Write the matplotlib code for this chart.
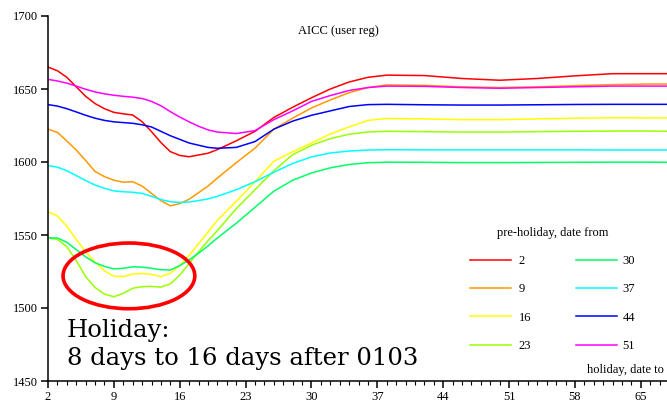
import numpy as np
import matplotlib
matplotlib.use("Agg")
import matplotlib.pyplot as plt
from matplotlib.patches import Ellipse
from matplotlib.ticker import MultipleLocator

plt.rcParams['font.family'] = ['Liberation Serif', 'DejaVu Serif']

# day axis ("holiday, date to")
days = [2, 3, 4, 5, 6, 7, 8, 9, 10, 11, 12, 13, 14, 15, 16, 17, 18, 19, 20,
        22, 24, 26, 28, 30, 32, 34, 36, 38, 42, 46, 50, 54, 58, 62, 66, 68]

# AICC per pre-holiday start date
aicc_2 = [1665, 1662.5, 1658, 1651.5, 1645, 1640, 1636.5, 1634, 1633, 1632.2, 1627.6, 1620.8,
          1613.3, 1607.1, 1604.5, 1603.6, 1604.8, 1606, 1608.5, 1614.5, 1621, 1630.5, 1637.5,
          1644, 1650, 1654.8, 1658, 1659.5, 1659.2, 1657.2, 1656, 1657.2, 1659, 1660.5, 1660.5, 1660.5]
aicc_9 = [1622.5, 1620.3, 1614.4, 1608.2, 1601, 1593.5, 1590, 1587.5, 1586.2, 1586.5, 1583.5,
          1578.5, 1573.5, 1570, 1571.5, 1574.5, 1579, 1583.5, 1589, 1599.5, 1609.5, 1622.5, 1630,
          1637, 1642.5, 1647.5, 1651, 1652.8, 1652.5, 1651.5, 1651, 1651.5, 1652.3, 1653, 1653.4, 1653.4]
aicc_16 = [1566, 1563, 1556, 1547, 1538.5, 1531.5, 1525.5, 1521.7, 1521.5, 1523.3, 1523.6, 1523,
           1521.5, 1523.8, 1529, 1536, 1544, 1552, 1560, 1573, 1586.5, 1600.5, 1607, 1613, 1619.2,
           1624, 1628.5, 1629.8, 1629.5, 1629, 1629, 1629.5, 1630, 1630.3, 1630.2, 1630.2]
aicc_23 = [1548, 1547, 1542, 1532.5, 1521.5, 1514, 1509.5, 1507.7, 1510, 1513.5, 1514.6, 1514.8,
           1514.3, 1516.5, 1522.5, 1530.5, 1538.5, 1546, 1553, 1568, 1581, 1594, 1605, 1611.5,
           1616, 1619, 1620.6, 1621, 1620.8, 1620.5, 1620.5, 1620.8, 1621, 1621.2, 1621.2, 1621]
aicc_30 = [1548, 1548, 1545, 1540, 1535, 1531, 1528.5, 1526.8, 1527.2, 1528.2, 1528, 1527.2,
           1526.2, 1526, 1529, 1533, 1537.5, 1542.5, 1548, 1558, 1569, 1580, 1587.5, 1592.5,
           1596, 1598.3, 1599.5, 1599.9, 1599.8, 1599.6, 1599.6, 1599.7, 1599.8, 1599.9, 1599.9, 1599.8]
aicc_37 = [1597.5, 1596.5, 1594, 1590.7, 1587.3, 1584.2, 1582, 1580.2, 1579.6, 1579.3, 1578.5,
           1576.5, 1574.3, 1572.8, 1572.3, 1572.6, 1573.6, 1574.7, 1576.5, 1581, 1586.5, 1593,
           1599, 1603.5, 1606.2, 1607.5, 1608.2, 1608.4, 1608.3, 1608.3, 1608.3, 1608.3, 1608.3,
           1608.2, 1608.2, 1608.2]
aicc_44 = [1639.3, 1638.3, 1636.5, 1634.3, 1632, 1630, 1628.5, 1627.5, 1627, 1626.5, 1625.5, 1624,
           1621, 1618, 1615.5, 1613, 1611.5, 1610, 1609.4, 1610, 1614, 1622.5, 1628, 1632, 1635,
           1638, 1639.3, 1639.5, 1639.2, 1639, 1639, 1639.2, 1639.4, 1639.5, 1639.5, 1639.5]
aicc_51 = [1656.6, 1655.5, 1654, 1652, 1649.8, 1648, 1646.7, 1645.7, 1645, 1644.4, 1643.5, 1641.5,
           1638.5, 1634.5, 1630.8, 1627.5, 1624.5, 1622, 1620.5, 1619.5, 1621.5, 1629, 1635,
           1641.5, 1645.5, 1649, 1651, 1652, 1651.8, 1651, 1650.5, 1651, 1651.5, 1652, 1652, 1652]

series = [("2", aicc_2, "#ff0000"), ("9", aicc_9, "#ff9900"), ("16", aicc_16, "#ffff00"),
          ("23", aicc_23, "#99ff00"), ("30", aicc_30, "#00ff66"), ("37", aicc_37, "#00ffff"),
          ("44", aicc_44, "#0000ff"), ("51", aicc_51, "#ff00ff")]

W, H = 667, 405
fig = plt.figure(figsize=(W / 100, H / 100), dpi=100)
ax = fig.add_axes([48 / W, (H - 381) / H, (W - 48) / W, (381 - 16) / H])

for name, vals, col in series:
    ax.plot(days, vals, color=col, lw=1.1, label=name)

ax.set_xlim(2, 2 + (W - 48) / 9.41)
ax.set_ylim(1450, 1700)
ax.xaxis.set_minor_locator(MultipleLocator(1))
ax.set_xticks(range(2, 67, 7))
ax.set_yticks(range(1450, 1701, 50))
ax.tick_params(axis='both', which='major', direction='out', length=5, width=1.1,
               labelsize=9, pad=2)
ax.tick_params(axis='x', which='minor', direction='out', length=3, width=0.8)
for s in ['top', 'right']:
    ax.spines[s].set_visible(False)
for s in ['left', 'bottom']:
    ax.spines[s].set_linewidth(1.1)

# holiday marker
ax.add_patch(Ellipse((10.6, 1522), 14.0, 45, fill=False, edgecolor='#ff0000',
                     lw=2.6, zorder=5))

fig.text(338 / W, 1 - 31 / H, "AICC (user reg)", ha='center', va='center', fontsize=9)
fig.text(664 / W, 1 - 370 / H, "holiday, date to", ha='right', va='center', fontsize=9)
fig.text(67 / W, 1 - 337 / H, "Holiday:", ha='left', va='baseline', fontsize=17.5,
         family=['DejaVu Serif'])
fig.text(67 / W, 1 - 365 / H, "8 days to 16 days after 0103", ha='left', va='baseline',
         fontsize=17.5, family=['DejaVu Serif'])

leg = ax.legend(ncol=2, title="pre-holiday, date from", frameon=False, fontsize=9,
                title_fontsize=9, handlelength=3.3, handletextpad=0.45, columnspacing=3.7,
                labelspacing=1.3, borderpad=0, borderaxespad=0,
                loc='upper left', bbox_to_anchor=(470 / W, 1 - 227 / H),
                bbox_transform=fig.transFigure)
for line in leg.get_lines():
    line.set_linewidth(1.1)
# first column labels sit right-aligned in the reference
for t in leg.get_texts()[:4]:
    t.set_ha('right')
    t.set_position((2, 0))

fig.savefig("out.png", dpi=100)
